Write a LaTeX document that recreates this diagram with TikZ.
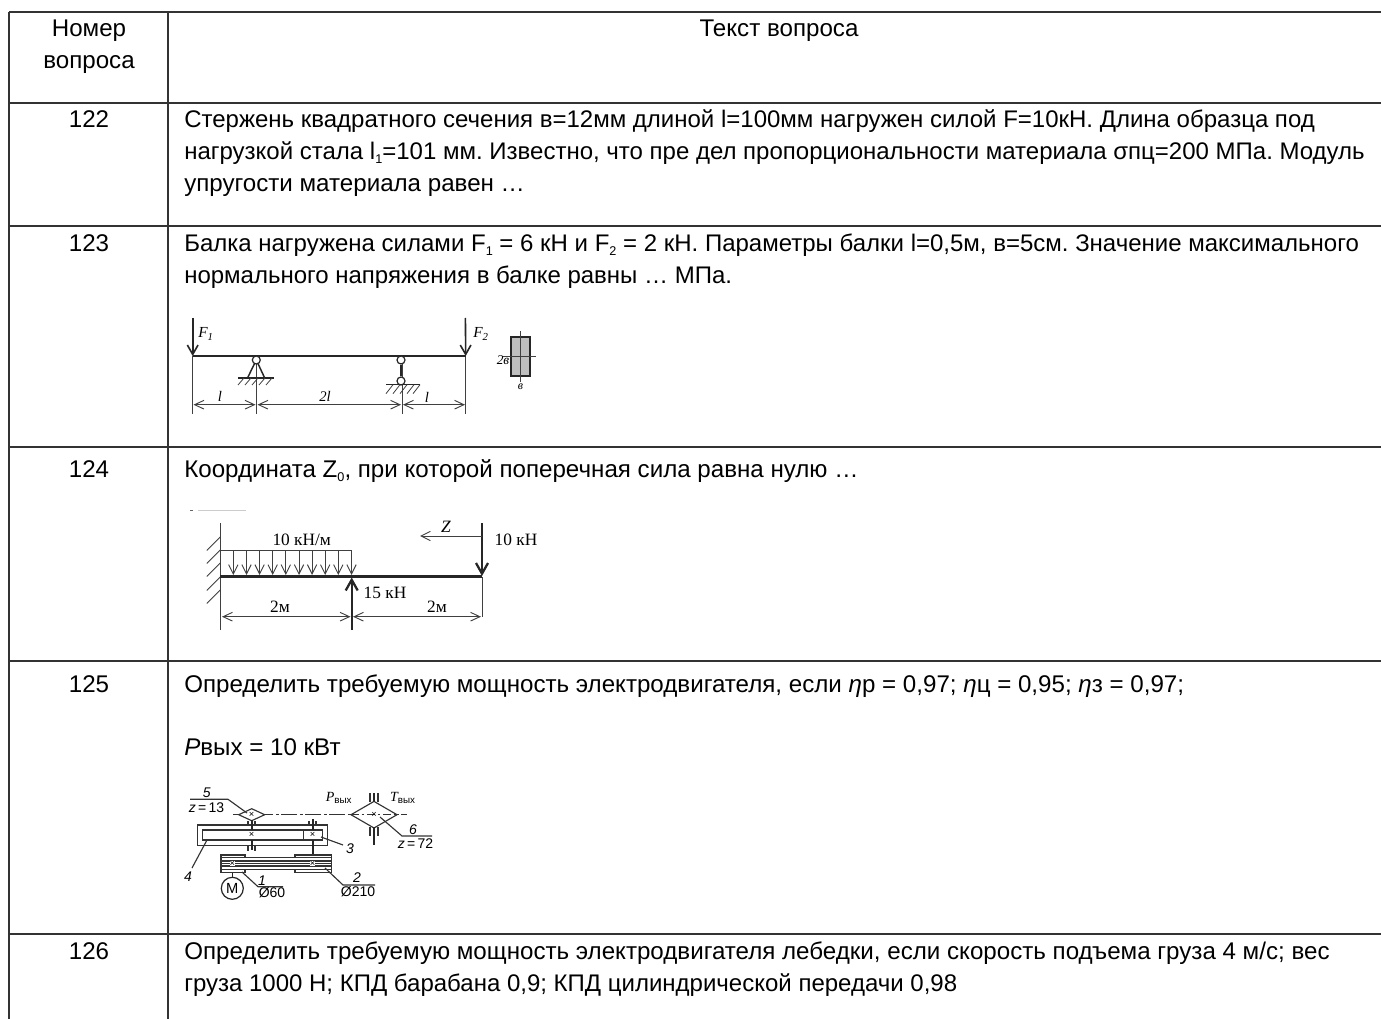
\documentclass[tikz,border=0pt]{standalone}
\usepackage{fontspec}
\setmainfont{Liberation Sans}
\newfontfamily\figserif{Liberation Serif}
\newcommand{\lowidx}[1]{\raisebox{-0.3ex}{\fontsize{9.5}{9.5}\selectfont #1}}
\usetikzlibrary{arrows.meta}
\tikzset{
  rowtext/.style={anchor=base west, inner sep=0pt, font=\fontsize{18.1}{18.1}\selectfont\frenchspacing},
  rowtight/.style={rowtext, font=\fontsize{18}{18}\selectfont\frenchspacing},
  rownum/.style={anchor=base, inner sep=0pt, font=\fontsize{18.1}{18.1}\selectfont},
  figlabel/.style={inner sep=0pt, font=\figserif\fontsize{#1}{#1}\selectfont\itshape},
  figlabel/.default=9,
  figplain/.style={inner sep=0pt, font=\figserif\fontsize{#1}{#1}\selectfont},
  figplain/.default=13,
  schlabel/.style={inner sep=0pt, font=\fontsize{#1}{#1}\selectfont},
  schlabel/.default=10.5,
  rule/.style={line width=0.9pt, black!80},
  thinline/.style={line width=0.7pt, black!75},
  schline/.style={line width=0.85pt, black!80},
  beam/.style={line width=2pt, black!85},
  dimline/.style={thinline, {Straight Barb[length=7pt,width=6.5pt]}-{Straight Barb[length=7pt,width=6.5pt]}},
  force/.style={line width=1.2pt, black!85, -{Straight Barb[length=7pt,width=8pt]}},
  bigforce/.style={line width=1.7pt, black!85, -{Straight Barb[length=8pt,width=9pt]}},
  hatch/.style={line width=0.6pt, black!75},
  hinge/.style={circle, draw=black!85, line width=0.9pt, fill=white, minimum size=6pt, inner sep=0pt},
}
\begin{document}
\begin{tikzpicture}[x=0.75pt, y=-0.75pt]
  \useasboundingbox (0,0) rectangle (1381,1019);
  \fill[white] (0,0) rectangle (1381,1019);
  % Table rules
  \foreach \ypos in {12,103,226,447,661,934}
    \draw[rule] (9,\ypos) -- (1381,\ypos);
  \draw[rule] (9,12) -- (9,1019);
  \draw[rule] (168,12) -- (168,1019);
  % Header
  \node[rownum] (numhead1) at (89,37) {Номер};
  \node[rownum] (numhead2) at (89,69) {вопроса};
  \node[rownum] (texthead) at (779,37) {Текст вопроса};
  % Question 122
  \node[rownum] (num122) at (89,128) {122};
  \node[rowtight] (q122a) at (184,128) {Стержень квадратного сечения в=12мм длиной l=100мм нагружен силой F=10кН. Длина образца под};
  \node[rowtight] (q122b) at (184,160) {нагрузкой стала l\lowidx{1}=101 мм. Известно, что пре дел пропорциональности материала σпц=200 МПа. Модуль};
  \node[rowtext] (q122c) at (184,192) {упругости материала равен …};
  % Question 123
  \node[rownum] (num123) at (89,252) {123};
  \node[rowtight] (q123a) at (184,252) {Балка нагружена силами F\lowidx{1} = 6 кН и F\lowidx{2} = 2 кН. Параметры балки l=0,5м, в=5см. Значение максимального};
  \node[rowtight] (q123b) at (184,284) {нормального напряжения в балке равны … МПа.};
  % Question 124
  \node[rownum] (num124) at (89,478) {124};
  \node[rowtext] (q124a) at (184,478) {Координата Z\lowidx{0}, при которой поперечная сила равна нулю …};
  % Question 125
  \node[rownum] (num125) at (89,692) {125};
  \node[rowtext] (q125a) at (184,692) {Определить требуемую мощность электродвигателя, если \textit{η}р = 0,97; \textit{η}ц = 0,95; \textit{η}з = 0,97;};
  \node[rowtext] (q125b) at (184,755) {\textit{P}вых = 10 кВт};
  % Question 126
  \node[rownum] (num126) at (89,959) {126};
  \node[rowtext] (q126a) at (184,959) {Определить требуемую мощность электродвигателя лебедки, если скорость подъема груза 4 м/с; вес};
  \node[rowtight] (q126b) at (184,991) {груза 1000 Н; КПД барабана 0,9; КПД цилиндрической передачи 0,98};

  % Beam of question 123
  \coordinate (A1) at (192.7,356);
  \coordinate (A2) at (465.7,356);
  \draw[thinline] (192.7,356) -- (192.7,414);
  \draw[thinline] (256.5,356) -- (256.5,414);
  \draw[thinline] (402,356) -- (402,414);
  \draw[thinline] (465.7,356) -- (465.7,414);
  \draw[beam] (A1) -- (A2);
  \draw[force] (192.7,318) -- (A1);
  \draw[force] (465.4,318) -- (A2);
  \node[figlabel=11.5] (f1) at (206,334) {F\textsubscript{1}};
  \node[figlabel=11.5] (f2) at (481,334) {F\textsubscript{2}};
  % Supports
  \draw[line width=1.1pt, black!85] (247.5,378) -- (256.3,360) -- (264.7,378);
  \node[hinge] (S1) at (256.3,360) {};
  \draw[line width=0.9pt, black!85] (238.3,378) -- (274.3,378);
  \foreach \xpos in {244,251,258,265,272}
    \draw[hatch] (\xpos,378) -- ++(-6,7);
  \node[hinge] (S2) at (401,360) {};
  \node[hinge] (S3) at (401,381) {};
  \draw[line width=1.2pt, black!85] (S2) -- (S3);
  \draw[line width=0.9pt, black!85] (386,384.7) -- (420,384.7);
  \foreach \xpos in {393,400,407,414,420}
    \draw[hatch] (\xpos,384.7) -- ++(-7,9);
  % Dimensions
  \draw[dimline] (193.5,404.7) -- (255.5,404.7);
  \draw[dimline] (257.5,404.7) -- (401,404.7);
  \draw[dimline] (403,404.7) -- (465,404.7);
  \node[figlabel=11] (dim1) at (220,396) {l};
  \node[figlabel=11] (dim2) at (325,396) {2l};
  \node[figlabel=11] (dim3) at (427,397) {l};
  % Cross section
  \draw[line width=1.3pt, black!85, fill=black!25] (511,337.3) rectangle (530.3,376);
  \draw[hatch] (520.5,331) -- (520.5,382);
  \draw[hatch] (503,356.5) -- (536,356.5);
  \node[figlabel=10] (sec1) at (503,360) {2в};
  \node[figlabel=9] (sec2) at (520.5,387) {в};

  % Beam of question 124
  \draw[line width=0.6pt, black!60] (190,510) -- (193,510);
  \draw[line width=0.3pt, black!20] (198,510) -- (246,510);
  \draw[thinline, line width=0.8pt] (220.3,523) -- (220.3,630);
  \foreach \ypos in {537,550,563,577,590}
    \draw[hatch, line width=0.7pt] (220.3,\ypos) -- ++(-13.5,13.5);
  \draw[thinline] (220.3,550) -- (351.7,550);
  \foreach \xpos in {233.3,246.5,259.6,272.7,285.8,299,312.1,325.2,338.3,351.5}
    \draw[thinline, -{Straight Barb[length=7pt,width=7pt]}] (\xpos,550) -- (\xpos,575);
  \draw[thinline] (482.3,577) -- (482.3,617);
  \draw[beam] (220.3,576.7) -- (482.3,576.7);
  \draw[bigforce] (482,523) -- (482,576);
  \draw[bigforce] (351.7,630) -- (351.7,577.5);
  \draw[thinline, -{Straight Barb[length=7pt,width=7pt]}] (481.7,536) -- (420,536);
  \draw[dimline] (222,616.7) -- (350.5,616.7);
  \draw[dimline] (353,616.7) -- (481,616.7);
  \node[figplain] (load) at (301.7,540) {10 кН/м};
  \node[figlabel=13] (zlab) at (446,527) {Z};
  \node[figplain] (f10) at (516,540) {10 кН};
  \node[figplain] (f15) at (385,593) {15 кН};
  \node[figplain] (len1) at (280,607) {2м};
  \node[figplain] (len2) at (437,607) {2м};

  % Drive scheme of question 125
  \draw[schline, dash pattern=on 12pt off 2pt on 2pt off 2pt] (233.3,814.7) -- (406.7,814.7);
  \draw[schline, fill=white] (238.7,814.7) -- (251.7,808.7) -- (264.7,814.7) -- (251.7,820.7) -- cycle;
  \draw[schline, fill=white] (351,814.7) -- (374,801.4) -- (397,814.7) -- (374,828) -- cycle;
  \draw[schline, dash pattern=on 6pt off 2pt on 2pt off 2pt] (351,814.7) -- (397,814.7);
  \draw[line width=1.5pt, black!85] (374,802) -- (374,792.7);
  \draw[line width=1.5pt, black!85] (374,827) -- (374,845);
  \foreach \xa/\ya in {370/793,378/793,370/827,378/827}
    \draw[schline] (\xa,\ya) -- ++(0,9);
  \node[schlabel=7] (mk1) at (251.7,814.7) {×};
  \node[schlabel=7] (mk2) at (374,814.7) {×};
  % Gear box
  \draw[schline] (197.7,825) rectangle (327.7,845.7);
  \draw[schline, fill=white] (202.7,830) rectangle (303.3,840);
  \draw[schline, fill=white] (303.3,830) rectangle (322.7,840);
  \draw[line width=1.5pt, black!85] (251.7,820) -- (251.7,830);
  \draw[line width=1.5pt, black!85] (251.7,840) -- (251.7,850);
  \draw[line width=1.5pt, black!85] (312.7,819.3) -- (312.7,830);
  \draw[line width=1.5pt, black!85] (312.7,840) -- (312.7,855);
  \foreach \xa/\ya in {248/821,255/821,248/846,255/846,309/821,316/821}
    \draw[schline] (\xa,\ya) -- ++(0,5);
  \node[schlabel=7] (mk3) at (251.7,834.5) {×};
  \node[schlabel=7] (mk4) at (312.7,834.5) {×};
  % Belt drive
  \draw[schline] (221,855) rectangle (245,872.7);
  \draw[schline] (295,855) rectangle (331.7,872.7);
  \draw[schline, fill=white] (221,857.5) rectangle (331.7,869.5);
  \foreach \ypos in {861,863.5,866}
    \draw[schline] (221,\ypos) -- (331.7,\ypos);
  \node[schlabel=7, fill=white] (mk5) at (232.3,863.5) {×};
  \node[schlabel=7, fill=white] (mk6) at (312.7,863.5) {×};
  % Motor
  \node[circle, draw=black!85, line width=0.9pt, minimum size=16.5pt, inner sep=0pt, font=\fontsize{11}{11}\selectfont] (motor) at (232.3,888.3) {M};
  \draw[line width=1.2pt, black!85] (motor) -- (232.3,872.7);
  % Leaders
  \draw[schline] (190,799.3) -- (228,799.3) -- (247,813);
  \draw[schline] (380,817) -- (402,836) -- (432,836);
  \draw[schline] (321,837) -- (343,845);
  \draw[schline] (207,840) -- (192,868);
  \draw[schline] (242,872) -- (258,886.7) -- (283,886.7);
  \draw[schline] (325,868) -- (343,885) -- (375,885);
  \node[schlabel] (lab5) at (206.7,793) {\textit{5}};
  \node[schlabel] (lab5z) at (206.5,808) {\textit{z}\,=\,13};
  \node[schlabel] (lab6) at (413,830) {\textit{6}};
  \node[schlabel] (lab6z) at (415.5,843.5) {\textit{z}\,=\,72};
  \node[schlabel] (lab3) at (350,849) {\textit{3}};
  \node[schlabel] (lab4) at (188,877) {\textit{4}};
  \node[schlabel] (lab1) at (262,881) {\textit{1}};
  \node[schlabel] (lab1d) at (272,893) {Ø60};
  \node[schlabel] (lab2) at (357,878) {\textit{2}};
  \node[schlabel] (lab2d) at (358,892) {Ø210};
  \node[inner sep=0pt, font=\figserif\fontsize{10.5}{10.5}\selectfont\itshape] (pout) at (339,798) {P\textsubscript{\normalfont\sffamily\fontspec{Liberation Sans}вых}};
  \node[inner sep=0pt, font=\figserif\fontsize{10.5}{10.5}\selectfont\itshape] (tout) at (403,798) {T\textsubscript{\normalfont\sffamily\fontspec{Liberation Sans}вых}};
\end{tikzpicture}
\end{document}
